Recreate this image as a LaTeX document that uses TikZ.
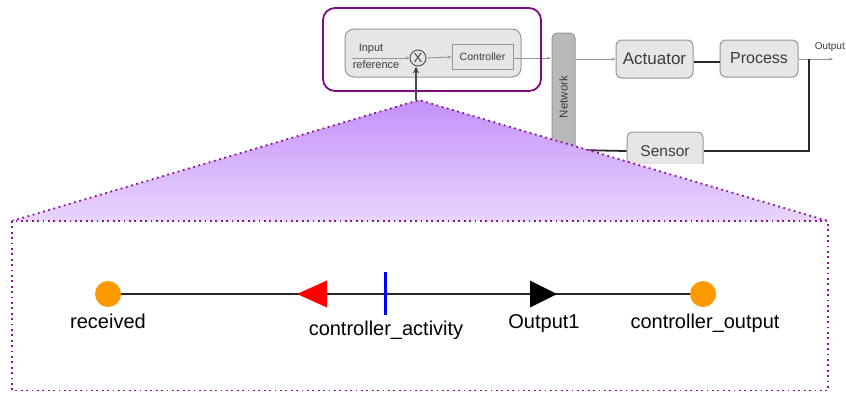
\documentclass[tikz,border=0pt]{standalone}
\usepackage{fontspec}
\setmainfont{Liberation Sans}
\usetikzlibrary{arrows.meta}
\definecolor{framepurple}{RGB}{128,10,128}
\definecolor{dotpurple}{RGB}{140,20,140}
\definecolor{triTop}{RGB}{196,144,250}
\definecolor{triBot}{RGB}{232,214,252}
\definecolor{boxfill}{RGB}{230,230,230}
\definecolor{boxdraw}{RGB}{150,150,150}
\definecolor{txtgray}{RGB}{60,60,60}
\definecolor{thinline}{RGB}{150,150,150}
\definecolor{thickline}{RGB}{40,40,40}
\definecolor{netfill}{RGB}{185,185,185}
\definecolor{dotorange}{RGB}{255,153,0}
\tikzset{
  blockbox/.style={draw=boxdraw, fill=boxfill, rounded corners=6pt, line width=1pt,
    text=txtgray, inner sep=0pt},
  smallbox/.style={draw=boxdraw, fill=boxfill, line width=0.8pt, text=txtgray, inner sep=0pt},
  thinarrow/.style={draw=thinline, line width=0.9pt, -{Stealth[length=4pt,width=3pt]}},
  thickconn/.style={draw=thickline, line width=1.8pt},
  dottedframe/.style={draw=dotpurple, line width=1.8pt, dash pattern=on 1.8pt off 3.6pt},
  orangedot/.style={circle, fill=dotorange, minimum size=26pt, inner sep=0pt},
  lbl/.style={font=\fontsize{20}{22}\selectfont, anchor=base, inner sep=0pt},
}
\begin{document}
\begin{tikzpicture}[x=1pt,y=-1pt]
\useasboundingbox (0,0) rectangle (846,392);

% ---------- upper block diagram ----------
\begin{scope}
\clip (300,0) rectangle (846,163);
% inner controller block
\node[draw=boxdraw, fill=boxfill, rounded corners=9pt, line width=1pt,
      minimum width=176pt, minimum height=48pt] (ctrlblk) at (433,53) {};
\node[text=txtgray, font=\fontsize{11}{12}\selectfont, inner sep=0pt] (inp) at (371,49) {Input};
\node[text=txtgray, font=\fontsize{11}{12}\selectfont, inner sep=0pt] (ref) at (376,65) {reference};
\coordinate (inpstart) at (352,58);
\node[circle, draw=txtgray, line width=0.8pt, minimum size=16pt, inner sep=0pt,
      font=\fontsize{13}{13}\selectfont, text=txtgray] (sum) at (418,58) {X};
\node[smallbox, minimum width=61pt, minimum height=25pt,
      font=\fontsize{10.5}{11}\selectfont] (ctrl) at (482.5,57) {Controller};
\draw[thinarrow] (inpstart) -- (sum.west);
\draw[thinarrow] (sum.east) -- (ctrl.west);
% network
\draw[draw=boxdraw, fill=netfill, line width=1pt, rounded corners=5pt]
  (552,175) -- (552,33) -- (575,33) -- (575,175);
\node[rotate=90, text=txtgray, font=\fontsize{11.5}{12}\selectfont] (net) at (563.5,97) {Network};
\coordinate (netinL) at (551,58);
\coordinate (netoutR) at (576,59);
\coordinate (netsens) at (575,150);
\draw[thinarrow] (ctrl.east |- netinL) -- (netinL);
% actuator, process, sensor
\node[blockbox, minimum width=77pt, minimum height=38pt,
      font=\fontsize{17}{18}\selectfont] (act) at (654.5,59) {Actuator};
\node[blockbox, minimum width=78pt, minimum height=37pt,
      font=\fontsize{16}{18}\selectfont] (proc) at (759,58.5) {Process};
\node[blockbox, minimum width=76pt, minimum height=38pt,
      font=\fontsize{15.5}{18}\selectfont] (sens) at (665,151) {Sensor};
\draw[thinarrow] (netoutR) -- (act.west |- netoutR);
\draw[thickconn] (act.east |- 0,62) -- (proc.west |- 0,62);
\coordinate (corner) at (809,59);
\coordinate (outtip) at (833,59);
\draw[thinarrow] (proc.east |- corner) -- (outtip);
\draw[thickconn] (corner) -- (corner |- sens.east) -- (sens.east);
\draw[thickconn] (sens.west) -- (netsens);
\end{scope}
\node[anchor=east, text=txtgray, font=\fontsize{10}{11}\selectfont, inner sep=0pt] (outlbl) at (845,47) {Output};

% purple highlight frame
\node[draw=framepurple, line width=1.8pt, rounded corners=12pt,
      minimum width=218pt, minimum height=83pt] (hl) at (432,49.5) {};

% ---------- zoom triangle ----------
\coordinate (apex) at (419,100);
\coordinate (bl) at (12,221);
\coordinate (br) at (828,221);
\shade[top color=triTop, bottom color=triBot] (apex) -- (br) -- (bl) -- cycle;
\draw[dottedframe] (bl) -- (apex) -- (br);
\coordinate (arrbase) at (416,100);
\draw[draw=thickline!85, line width=2.6pt, -{Stealth[length=7pt,width=6pt]}] (arrbase) -- (sum.south -| arrbase);

% ---------- detail box ----------
\draw[dottedframe, fill=white] (12,221) rectangle (828,390.5);

\coordinate (rcvc) at (108,294);
\coordinate (coutc) at (703,294);
\draw[line width=1.6pt, draw=black!85] (rcvc) -- (coutc);
\node[orangedot] (rcv) at (rcvc) {};
\node[orangedot] (cout) at (coutc) {};
\coordinate (redtip) at (297,294);
\coordinate (blacktip) at (557,294);
\fill[red] (redtip) -- ++(30,-13.5) -- ++(0,27) -- cycle;
\fill[black] (blacktip) -- ++(-27,-13.5) -- ++(0,27) -- cycle;
\draw[blue, line width=3pt] (385,272) -- (385,315);

\node[lbl] (lrcv) at (108,328) {received};
\node[lbl] (lact) at (386,335) {controller\_activity};
\node[lbl] (lout) at (544,328) {Output1};
\node[lbl] (lcout) at (705,328) {controller\_output};
\end{tikzpicture}
\end{document}
